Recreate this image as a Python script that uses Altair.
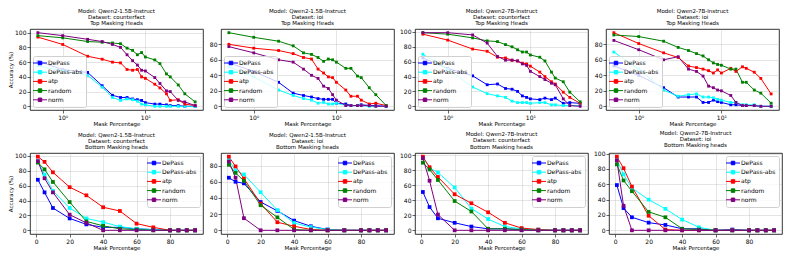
import math
import altair as alt
import pandas as pd

methods = ["DePass", "DePass-abs", "atp", "random", "norm"]
colors = ["#0000ff", "#00ffff", "#ff0000", "#008000", "#800080"]

top_x = [0.5, 1, 2, 3, 4, 5, 6, 7, 8, 9, 10, 13, 15, 18, 20, 25, 30, 40]
bottom_x = [1, 5, 10, 20, 30, 40, 50, 60, 70, 80, 85, 90, 95]

title_1 = ["Model: Qwen2-1.5B-Instruct", "Dataset: counterfact", "Top Masking Heads"]
title_2 = ["Model: Qwen2-1.5B-Instruct", "Dataset: ioi", "Top Masking Heads"]
title_3 = ["Model: Qwen2-7B-Instruct", "Dataset: counterfact", "Top Masking Heads"]
title_4 = ["Model: Qwen2-7B-Instruct", "Dataset: ioi", "Top Masking Heads"]
title_5 = ["Model: Qwen2-1.5B-Instruct", "Dataset: counterfact", "Bottom Masking heads"]
title_6 = ["Model: Qwen2-1.5B-Instruct", "Dataset: ioi", "Bottom Masking heads"]
title_7 = ["Model: Qwen2-7B-Instruct", "Dataset: counterfact", "Bottom Masking heads"]
title_8 = ["Model: Qwen2-7B-Instruct", "Dataset: ioi", "Bottom Masking heads"]

# Panel 1: Qwen2-1.5B counterfact, top
p1_depass = [61, 50, 46, 28, 15, 12, 12, 10, 9, 8, 5, 3, 3, 2, 1, 1, 0, 0]
p1_depass_abs = [55, 48, 42, 26, 12, 8, 10, 9, 7, 3, 2, 0, 0, 0, 0, 0, 0, 0]
p1_atp = [94, 84, 68, 64, 60, 59, 50, 49, 50, 40, 38, 30, 25, 17, 8, 9, 3, 1]
p1_random = [96, 93, 88, 87, 86, 85, 79, 76, 70, 73, 67, 63, 58, 44, 40, 29, 17, 6]
p1_norm = [100, 96, 91, 88, 84, 80, 70, 62, 56, 49, 48, 39, 31, 21, 20, 8, 6, 1]

# Panel 2: Qwen2-1.5B ioi, top
p2_depass = [56, 45, 31, 17, 14, 12, 10, 9, 9, 9, 4, 3, 1, 1, 2, 1, 1, 0]
p2_depass_abs = [51, 38, 21, 14, 10, 8, 4, 5, 3, 3, 4, 1, 1, 1, 1, 0, 0, 0]
p2_atp = [80, 75, 72, 68, 63, 61, 48, 43, 38, 37, 31, 21, 13, 13, 8, 3, 4, 1]
p2_random = [95, 89, 84, 78, 69, 67, 63, 58, 61, 60, 57, 49, 49, 39, 37, 24, 15, 1]
p2_norm = [77, 69, 60, 57, 48, 40, 36, 26, 23, 15, 8, 1, 1, 1, 1, 1, 0, 0]

# Panel 3: Qwen2-7B counterfact, top
p3_depass = [65, 51, 41, 29, 30, 24, 23, 20, 14, 12, 10, 9, 11, 9, 11, 4, 5, 4]
p3_depass_abs = [70, 50, 26, 17, 14, 12, 7, 5, 5, 5, 4, 5, 5, 2, 2, 1, 1, 1]
p3_atp = [97, 89, 77, 74, 66, 65, 62, 61, 58, 57, 54, 46, 40, 33, 30, 19, 12, 4]
p3_random = [99, 97, 92, 88, 87, 83, 80, 76, 73, 73, 69, 66, 61, 46, 38, 33, 19, 6]
p3_norm = [99, 99, 96, 85, 67, 62, 62, 61, 57, 55, 47, 40, 36, 31, 29, 10, 1, 0]

# Panel 4: Qwen2-7B ioi, top
p4_depass = [52, 40, 24, 12, 12, 12, 5, 5, 8, 6, 5, 2, 2, 1, 1, 1, 0, 0]
p4_depass_abs = [70, 48, 21, 13, 15, 16, 12, 12, 11, 9, 8, 5, 5, 2, 2, 2, 0, 0]
p4_atp = [95, 81, 69, 63, 52, 50, 48, 46, 43, 47, 43, 49, 45, 51, 49, 44, 36, 16]
p4_random = [92, 90, 84, 76, 72, 68, 65, 60, 56, 54, 53, 48, 48, 31, 31, 21, 17, 4]
p4_norm = [85, 73, 60, 64, 48, 45, 39, 26, 24, 21, 20, 14, 5, 1, 1, 1, 0, 0]

# Panel 5: Qwen2-1.5B counterfact, bottom
p5_depass = [68, 51, 30, 16, 8, 4, 4, 2, 1, 0, 0, 0, 0]
p5_depass_abs = [93, 75, 53, 30, 16, 11, 5, 2, 1, 0, 0, 0, 0]
p5_atp = [99, 92, 78, 58, 47, 31, 26, 9, 4, 0, 0, 0, 0]
p5_random = [91, 82, 65, 38, 12, 6, 2, 1, 0, 0, 0, 0, 0]
p5_norm = [93, 70, 51, 21, 10, 0, 0, 0, 0, 0, 0, 0, 0]

# Panel 6: Qwen2-1.5B ioi, bottom
p6_depass = [65, 60, 58, 35, 24, 12, 5, 1, 0, 0, 0, 0, 0]
p6_depass_abs = [87, 74, 69, 47, 25, 9, 4, 1, 0, 0, 0, 0, 0]
p6_atp = [91, 79, 64, 33, 10, 5, 1, 0, 0, 0, 0, 0, 0]
p6_random = [81, 71, 61, 31, 16, 1, 0, 0, 0, 0, 0, 0, 0]
p6_norm = [85, 65, 15, 0, 0, 0, 0, 0, 0, 0, 0, 0, 0]

# Panel 7: Qwen2-7B counterfact, bottom
p7_depass = [51, 31, 16, 10, 5, 2, 2, 1, 0, 0, 0, 0, 0]
p7_depass_abs = [97, 83, 77, 57, 29, 15, 5, 2, 1, 0, 0, 0, 0]
p7_atp = [98, 84, 71, 48, 36, 24, 10, 3, 1, 0, 0, 0, 0]
p7_random = [90, 81, 67, 39, 25, 2, 2, 1, 0, 0, 0, 0, 0]
p7_norm = [96, 66, 21, 0, 0, 0, 0, 0, 0, 0, 0, 0, 0]

# Panel 8: Qwen2-7B ioi, bottom
p8_depass = [59, 29, 17, 10, 7, 2, 2, 0, 1, 0, 0, 0, 0]
p8_depass_abs = [92, 73, 55, 40, 28, 14, 4, 0, 0, 0, 0, 0, 0]
p8_atp = [96, 81, 57, 19, 1, 0, 0, 0, 0, 0, 0, 0, 0]
p8_random = [86, 65, 51, 24, 17, 2, 1, 0, 0, 0, 0, 0, 0]
p8_norm = [91, 32, 0, 0, 0, 0, 0, 0, 0, 0, 0, 0, 0]

FONT = "DejaVu Sans"
W = 173
H = 81
LEGEND_SYMBOL = "M-2,0L2,0M-0.5,-0.5L0.5,-0.5L0.5,0.5L-0.5,0.5Z"


def panel(x_vals, series, title, top, first):
    rows = []
    for m, vals in zip(methods, series):
        for xv, yv in zip(x_vals, vals):
            rows.append({"x": xv, "y": yv, "method": m})
    df = pd.DataFrame(rows)
    ymin = df["y"].min()
    ymax = df["y"].max()
    yr = ymax - ymin
    ydom = [ymin - 0.05 * yr, ymax + 0.05 * yr]
    if top:
        lo = math.log10(min(x_vals))
        hi = math.log10(max(x_vals))
        sp = hi - lo
        xscale = alt.Scale(type="log", domain=[10 ** (lo - 0.05 * sp), 10 ** (hi + 0.05 * sp)], nice=False)
        xaxis = alt.Axis(values=[1, 10], labelExpr="datum.value == 1 ? '10⁰' : '10¹'")
        lorient = "bottom-left"
        msize = 8
    else:
        lo = min(x_vals)
        hi = max(x_vals)
        sp = hi - lo
        xscale = alt.Scale(domain=[lo - 0.05 * sp, hi + 0.05 * sp], nice=False, zero=False)
        xaxis = alt.Axis(values=[0, 20, 40, 60, 80])
        lorient = "top-right"
        msize = 14
    yticks = [v for v in range(0, 101, 20) if ydom[0] <= v <= ydom[1]]
    yaxis = alt.Axis(values=yticks)
    legend = alt.Legend(
        orient=lorient,
        title=None,
        symbolType=LEGEND_SYMBOL,
        symbolSize=49,
        symbolStrokeWidth=1,
        labelFontSize=6,
        labelFont=FONT,
        labelColor="black",
        rowPadding=1.2,
        padding=3,
        offset=3,
        fillColor="rgba(255,255,255,0.8)",
        strokeColor="#d0d0d0",
        cornerRadius=2,
        labelOffset=4,
    )
    color = alt.Color(
        "method:N",
        scale=alt.Scale(domain=methods, range=colors),
        sort=methods,
        legend=legend,
    )
    x = alt.X("x:Q", scale=xscale, axis=xaxis, title="Mask Percentage")
    if first:
        y = alt.Y("y:Q", scale=alt.Scale(domain=ydom, nice=False, zero=False), axis=yaxis, title="Accuracy (%)")
    else:
        y = alt.Y("y:Q", scale=alt.Scale(domain=ydom, nice=False, zero=False), axis=yaxis, title=None)
    base = alt.Chart(df)
    lines = base.mark_line(strokeWidth=1).encode(x=x, y=y, color=color, detail="method:N")
    pts = base.mark_point(shape="square", filled=True, size=msize, opacity=1).encode(x=x, y=y, color=color)
    return alt.layer(lines, pts).properties(
        width=W,
        height=H,
        title=alt.TitleParams(text=title, fontSize=5.5, font=FONT, fontWeight="normal",
                              color="black", lineHeight=6.3, offset=2, anchor="middle"),
    )


top_row = alt.hconcat(
    panel(top_x, [p1_depass, p1_depass_abs, p1_atp, p1_random, p1_norm], title_1, True, True),
    panel(top_x, [p2_depass, p2_depass_abs, p2_atp, p2_random, p2_norm], title_2, True, False),
    panel(top_x, [p3_depass, p3_depass_abs, p3_atp, p3_random, p3_norm], title_3, True, False),
    panel(top_x, [p4_depass, p4_depass_abs, p4_atp, p4_random, p4_norm], title_4, True, False),
    spacing=4,
).resolve_scale(x="independent", y="independent", color="independent").resolve_legend(color="independent")

bottom_row = alt.hconcat(
    panel(bottom_x, [p5_depass, p5_depass_abs, p5_atp, p5_random, p5_norm], title_5, False, True),
    panel(bottom_x, [p6_depass, p6_depass_abs, p6_atp, p6_random, p6_norm], title_6, False, False),
    panel(bottom_x, [p7_depass, p7_depass_abs, p7_atp, p7_random, p7_norm], title_7, False, False),
    panel(bottom_x, [p8_depass, p8_depass_abs, p8_atp, p8_random, p8_norm], title_8, False, False),
    spacing=4,
).resolve_scale(x="independent", y="independent", color="independent").resolve_legend(color="independent")

chart = alt.vconcat(top_row, bottom_row, spacing=3).resolve_scale(
    x="independent", y="independent", color="independent"
).resolve_legend(color="independent").properties(padding=0).configure_view(
    stroke="black", strokeWidth=0.8
).configure_axis(
    domain=False,
    grid=True,
    gridColor="#b0b0b0",
    gridOpacity=0.55,
    gridWidth=0.6,
    tickColor="black",
    tickSize=3,
    tickWidth=0.6,
    labelFont=FONT,
    labelFontSize=6,
    labelColor="black",
    labelPadding=1,
    titleFont=FONT,
    titleFontSize=5.5,
    titleFontWeight="normal",
    titleColor="black",
    titlePadding=1,
).configure_concat(spacing=4)

chart.save("out.html", embed_options={"renderer": "svg", "actions": False})
